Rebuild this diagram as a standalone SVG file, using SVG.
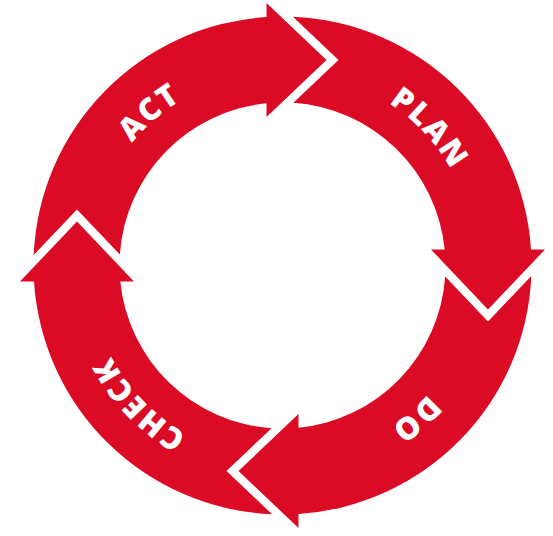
<svg xmlns="http://www.w3.org/2000/svg" xmlns:xlink="http://www.w3.org/1999/xlink" width="553" height="536" viewBox="0 0 553 536">
  <style>
    .seg { fill: #DB0A25; }
    .lbl { fill: #FFFFFF; font-family: "Open Sans", "Liberation Sans", sans-serif; font-weight: 800; font-size: 31px; letter-spacing: 2px; }
  </style>
  <defs>
    <path id="seg" d="M 10.4 -248.8 A 249 249 0 0 1 248.5 -16 L 262.5 -16 L 205.5 44 L 148.5 -16 L 162.2 -16 A 163 163 0 0 0 10.9 -162.65 L 56 -205.5 Z"/>
    <path id="ring" d="M -194 0 A 194 194 0 1 1 194 0 A 194 194 0 1 1 -194 0"/>
  </defs>
  <rect width="553" height="536" fill="#FFFFFF"/>
  <g transform="translate(282.5 265.5)">
    <g id="plan">
      <use href="#seg" class="seg"/>
      <text class="lbl" text-anchor="middle"><textPath href="#ring" startOffset="463.9">PLAN</textPath></text>
    </g>
    <g id="do">
      <use href="#seg" class="seg" transform="rotate(90)"/>
      <text class="lbl" text-anchor="middle"><textPath href="#ring" startOffset="775.4">DO</textPath></text>
    </g>
    <g id="check">
      <use href="#seg" class="seg" transform="rotate(180)"/>
      <text class="lbl" text-anchor="middle"><textPath href="#ring" startOffset="1070">CHECK</textPath></text>
    </g>
    <g id="act">
      <use href="#seg" class="seg" transform="rotate(270)"/>
      <text class="lbl" text-anchor="middle"><textPath href="#ring" startOffset="166">ACT</textPath></text>
    </g>
  </g>
</svg>
